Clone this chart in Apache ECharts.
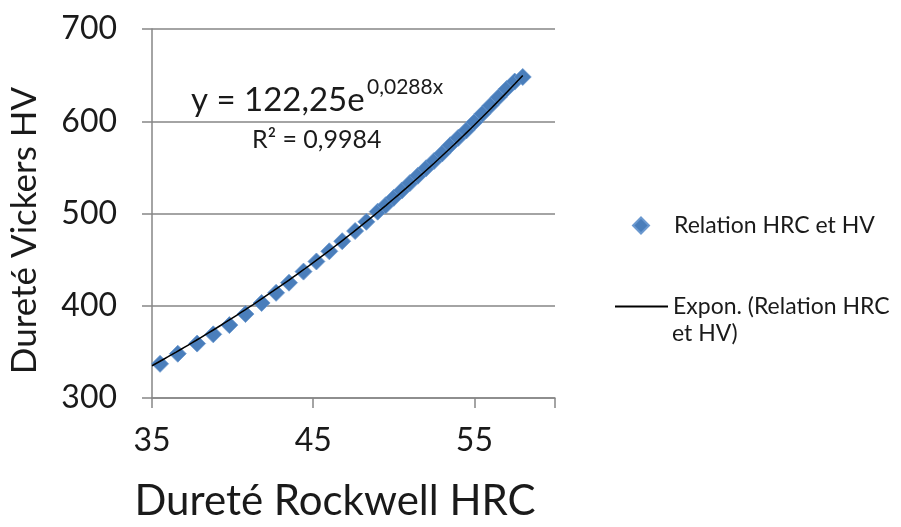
<!DOCTYPE html>
<html>
<head>
<meta charset="utf-8">
<script src="https://cdn.jsdelivr.net/npm/echarts@6/dist/echarts.min.js"></script>
<style>html,body{margin:0;padding:0;background:#fff}#c{width:901px;height:527px}</style>
</head>
<body>
<div id="c"></div>
<script>
// Data
const hrc = [35.5,36.6,37.8,38.8,39.8,40.8,41.8,42.7,43.5,44.4,45.2,46.0,46.8,47.6,48.3,49.0,49.5,50.0,50.5,51.0,51.5,52.0,52.5,53.0,53.5,54.0,54.5,55.0,55.5,56.0,56.5,57.0,57.5,58.0];
const hv  = [337,348,359,369,379,391,403,414,425,437,448,459,470,481,491,502,509,517,525,533,541,549,557,565,574,582,590,599,608,617,626,635,643,648];
// Trend line (exponential fit shown on the chart): y = a * e^(b x)
const trendA = 122.25;
const trendB = 0.0288;
const trendRange = [35, 58];
const xTicks = [35, 45, 55];
const yTicks = [300, 400, 500, 600, 700];

const scatterData = hrc.map((x, i) => [x, hv[i]]);
const trendData = [];
for (let x = trendRange[0]; x <= trendRange[1] + 1e-9; x += 0.25) {
  trendData.push([x, trendA * Math.exp(trendB * x)]);
}

const FONT = 'Lato';
const INK = '#1a1a1a';
const chart = echarts.init(document.getElementById('c'), null, {renderer: 'canvas'});
chart.setOption({
  backgroundColor: '#fff',
  animation: false,
  textStyle: {fontFamily: FONT},
  grid: {left: 152, right: 346, top: 29, bottom: 123, containLabel: false},
  xAxis: {
    type: 'value', min: 35, max: 60, interval: 10,
    name: 'Dureté Rockwell HRC', nameLocation: 'middle', nameGap: 82,
    nameTextStyle: {fontSize: 42, color: INK, fontFamily: FONT, padding: [0, 37, 0, 0]},
    axisLine: {show: true, lineStyle: {color: '#868686', width: 1.5}},
    axisTick: {show: true, length: 10, lineStyle: {color: '#868686', width: 1.5}},
    axisLabel: {fontSize: 32, color: INK, margin: 27, fontFamily: FONT,
      formatter: v => xTicks.includes(v) ? String(v) : ''},
    splitLine: {show: false}
  },
  yAxis: {
    type: 'value', min: 300, max: 700, interval: 100,
    name: 'Dureté Vickers HV', nameLocation: 'middle', nameGap: 110, nameRotate: 90,
    nameTextStyle: {fontSize: 35, color: INK, fontFamily: FONT, padding: [0, 34, 0, 0]},
    axisLine: {show: true, lineStyle: {color: '#868686', width: 1.5}},
    axisTick: {show: true, length: 10, lineStyle: {color: '#868686', width: 1.5}},
    axisLabel: {fontSize: 32, color: INK, margin: 35, fontFamily: FONT,
      formatter: v => yTicks.includes(v) ? String(v) : ''},
    splitLine: {show: true, lineStyle: {color: '#868686', width: 1.5}}
  },
  legend: [
    {
      orient: 'vertical', left: 627, top: 209,
      itemWidth: 16, itemHeight: 16,
      data: [{name: 'Relation HRC et HV', icon: 'diamond', itemStyle: {opacity: 1}}],
      textStyle: {fontSize: 23, color: INK, fontFamily: FONT, padding: [0, 0, 0, 20]}
    },
    {
      orient: 'vertical', left: 610, top: 290,
      itemWidth: 53, itemHeight: 2,
      data: [{name: 'Expon. (Relation HRC et HV)', icon: 'rect'}],
      formatter: () => 'Expon. (Relation HRC',
      textStyle: {fontSize: 23, color: INK, fontFamily: FONT, padding: [0, 0, 0, 0]}
    }
  ],
  graphic: [
    {type: 'text', left: 672, top: 322, style: {text: 'et HV)', font: '23px Lato', fill: INK}},
    {type: 'text', left: 191, top: 84, style: {text: 'y = 122,25e', font: '33px Lato', fill: INK}},
    {type: 'text', left: 367, top: 77, style: {text: '0,0288x', font: '21px Lato', fill: INK}},
    {type: 'text', left: 252, top: 127, style: {text: 'R² = 0,9984', font: '25px Lato', fill: INK}}
  ],
  series: [
    {
      name: 'Relation HRC et HV', type: 'scatter', symbol: 'diamond', symbolSize: 17,
      data: scatterData, z: 2,
      itemStyle: {color: '#4a7ebb', borderColor: '#6a98cf', borderWidth: 0.8, opacity: 1}
    },
    {
      name: 'Expon. (Relation HRC et HV)', type: 'line', data: trendData,
      showSymbol: false, symbol: 'none', smooth: false, z: 3,
      lineStyle: {color: '#000', width: 1.5},
      itemStyle: {color: '#000'}
    }
  ]
});
</script>
</body>
</html>
